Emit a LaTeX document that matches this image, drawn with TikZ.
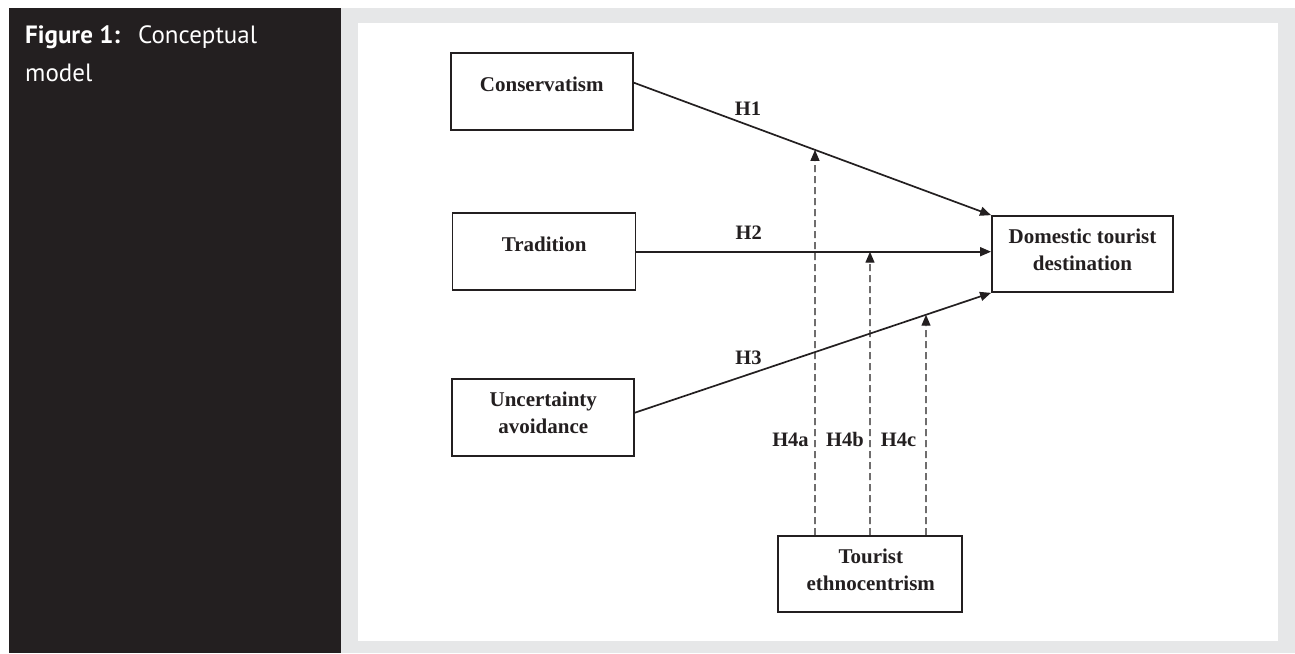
\documentclass[tikz,border=0pt]{standalone}
\usepackage{fontspec}
\setmainfont{Liberation Serif}
\newfontfamily\titlefont{PT Sans}
\usetikzlibrary{arrows.meta,intersections}
\definecolor{panel}{HTML}{231F20}
\definecolor{frame}{HTML}{E6E7E8}
\definecolor{ink}{HTML}{231F20}
\begin{document}
\begin{tikzpicture}[x=1pt,y=-1pt,
  box/.style={draw=ink,line width=1.7pt,minimum width=182pt,minimum height=77pt,inner sep=0pt},
  lbl/.style={text=ink,font=\fontsize{21}{27}\selectfont\bfseries,inner sep=0pt,align=center},
  hyp/.style={text=ink,font=\fontsize{20.5}{24}\selectfont\bfseries,inner sep=0pt,anchor=base},
  link/.style={draw=ink,line width=1.7pt,-{Triangle[length=11pt,width=9pt]}},
  moder/.style={draw=ink,line width=1.3pt,dash pattern=on 7pt off 4pt,-{Triangle[length=11pt,width=9pt]}}
  ]
\useasboundingbox (0,0) rectangle (1295,653);
\fill[white] (0,0) rectangle (1295,653);
\fill[panel] (9,8) rectangle (341,653);
\fill[frame] (341,8) rectangle (1295,653);
\fill[white] (358,22.5) rectangle (1278,641);
\node[anchor=north west,inner sep=0pt,text=white,font=\titlefont\fontsize{25}{38}\selectfont,align=left] (title) at (25,25) {\textbf{Figure 1:}\hspace{9pt} Conceptual\\model};
% boxes
\node[box] (cons) at (542,91.5) {};
\node[box,minimum width=183pt] (trad) at (544,251.7) {};
\node[box] (unc) at (543,417.5) {};
\node[box,minimum width=181pt,minimum height=76pt] (dom) at (1082.4,254) {};
\node[box,minimum width=184pt,minimum height=76pt] (eth) at (870,574) {};
% box texts
\node[lbl,anchor=base] (consT) at (541.8,91.7) {Conservatism};
\node[lbl,anchor=base] (tradT) at (544.2,251) {Tradition};
\node[lbl] (uncT) at (543.3,413.2) {Uncertainty\\avoidance};
\node[lbl] (domT) at (1082.5,249.8) {Domestic tourist\\destination};
\node[lbl] (ethT) at (870.8,569.8) {Tourist\\ethnocentrism};
% main paths
\draw[link,name path=l1] ([yshift=8.8pt]cons.east) -- (dom.north west);
\draw[link,name path=l2] (trad.east) -- (trad.east -| dom.west);
\draw[link,name path=l3] ([yshift=4.8pt]unc.east) -- (dom.south west);
% moderator paths
\coordinate (s1) at ([xshift=-55pt]eth.north);
\coordinate (s2) at (eth.north);
\coordinate (s3) at ([xshift=56pt]eth.north);
\path[name path=v1] (s1) -- ++(0,-500);
\path[name path=v2] (s2) -- ++(0,-500);
\path[name path=v3] (s3) -- ++(0,-500);
\path[name intersections={of=l1 and v1,by=i1}];
\path[name intersections={of=l2 and v2,by=i2}];
\path[name intersections={of=l3 and v3,by=i3}];
\draw[moder] (s1) -- (i1);
\draw[moder] (s2) -- (i2);
\draw[moder] (s3) -- (i3);
% hypothesis labels
\node[hyp] (h1) at (748,115) {H1};
\node[hyp] (h2) at (748.8,239.3) {H2};
\node[hyp] (h3) at (748.5,364) {H3};
\node[hyp] (h4a) at (790.5,446.7) {H4a};
\node[hyp] (h4b) at (845,446.7) {H4b};
\node[hyp] (h4c) at (898.5,446.7) {H4c};
\end{tikzpicture}
\end{document}
